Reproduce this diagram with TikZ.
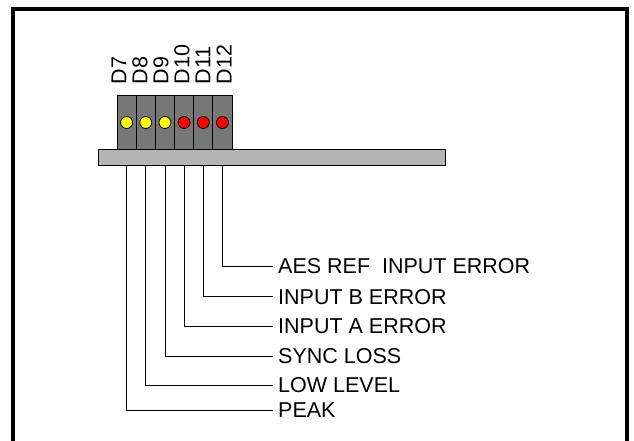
\documentclass[tikz,border=0pt]{standalone}
\usepackage{fontspec}
\setmainfont{Liberation Sans}
\usetikzlibrary{calc}
\definecolor{modgray}{HTML}{777777}
\definecolor{bargray}{HTML}{B4B4B4}
\definecolor{ledyellow}{HTML}{FFFF00}
\definecolor{ledred}{HTML}{FF0000}

\begin{document}
\begin{tikzpicture}[x=1pt,y=-1pt,
  module/.style={draw=black,fill=modgray,line width=1pt,minimum width=19.2pt,minimum height=53pt,inner sep=0pt},
  led/.style={circle,draw=black,line width=0.8pt,minimum size=12pt,inner sep=0pt},
  lab/.style={font=\fontsize{21.5}{21.5}\selectfont,inner xsep=5pt,inner ysep=0pt,anchor=west},
  tag/.style={font=\fontsize{21.5}{21.5}\selectfont,rotate=90,anchor=west,inner sep=0pt}]
\useasboundingbox (0,0) rectangle (634,441);
% outer frame, open at the bottom
\draw[line width=4pt] (13,441) -- (13,9) -- (627,9) -- (627,441);
% indicator board
\node[draw,line width=1pt,fill=bargray,minimum width=347pt,minimum height=16pt,inner sep=0pt,anchor=north west] (bar) at (98,149) {};
\foreach \n/\c in {7/ledyellow,8/ledyellow,9/ledyellow,10/ledred,11/ledred,12/ledred}{
  \node[module] (mod\n) at ({126.6+19.17*(\n-7)},122.5) {};
  \node[led,fill=\c] (led\n) at (mod\n.center) {};
  \node[tag] (tag\n) at ({119+21*(\n-7)},84.5) {D\n};
}
% legend
\node[lab] (lbl12) at (273,266) {AES REF~ INPUT ERROR};
\node[lab] (lbl11) at (273,296.7) {INPUT B ERROR};
\node[lab] (lbl10) at (273,326) {INPUT A ERROR};
\node[lab] (lbl9) at (273,356) {SYNC LOSS};
\node[lab] (lbl8) at (273,385.3) {LOW LEVEL};
\node[lab] (lbl7) at (273,410) {PEAK};
\foreach \n in {7,...,12}
  \draw[line width=0.8pt] (bar.south -| led\n) |- (lbl\n.west);
\end{tikzpicture}
\end{document}
